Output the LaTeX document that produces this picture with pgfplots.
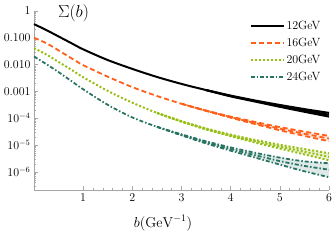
\documentclass[border=0pt]{standalone}
\usepackage{pgfplots}
\pgfplotsset{compat=1.18}
\usepgfplotslibrary{fillbetween}
\definecolor{cOr}{RGB}{255,95,25}
\definecolor{cGr}{RGB}{150,190,20}
\definecolor{cTe}{RGB}{40,115,98}
\begin{document}
\begin{tikzpicture}
\begin{axis}[
  at={(0,0)}, anchor=south west,
  scale only axis, width=295bp, height=179bp,
  xmin=0, xmax=6, ymin=2.1e-7, ymax=1,
  ymode=log, set layers, clip=false,
  axis x line*=bottom, axis y line*=left,
  axis line style={gray!70, line width=0.6pt, -},
  xtick={1,...,6}, minor x tick num=4,
  ytick={1e-6,1e-5,1e-4,1e-3,1e-2,1e-1,1},
  minor ytick={2e-7,3e-7,4e-7,5e-7,6e-7,7e-7,8e-7,9e-7,
    2e-6,3e-6,4e-6,5e-6,6e-6,7e-6,8e-6,9e-6,
    2e-5,3e-5,4e-5,5e-5,6e-5,7e-5,8e-5,9e-5,
    2e-4,3e-4,4e-4,5e-4,6e-4,7e-4,8e-4,9e-4,
    2e-3,3e-3,4e-3,5e-3,6e-3,7e-3,8e-3,9e-3,
    2e-2,3e-2,4e-2,5e-2,6e-2,7e-2,8e-2,9e-2,
    0.2,0.3,0.4,0.5,0.6,0.7,0.8,0.9},
  yticklabels={$10^{-6}$,$10^{-5}$,$10^{-4}$,$0.001$,$0.010$,$0.100$,$1$},
  tick align=inside, major tick length=4bp, minor tick length=2bp,
  tick style={gray!70, line width=0.5pt},
  ticklabel style={font=\large},
  legend style={draw=none, fill=none, at={(rel axis cs:0.73,0.955)}, anchor=north west,
    font=\large, row sep=3pt, inner sep=0pt},
  legend cell align=left,
  legend image code/.code={\draw[#1] (0bp,0bp) -- (33bp,0bp);},
]
% 12 GeV
\addplot[black, line width=2pt, smooth] table {
b y
0 0.3236
0.25 0.1950
0.5 0.1122
0.75 0.06457
1.0 0.03715
1.5 0.01479
2.0 0.006918
2.5 0.003467
3.0 0.001905
3.5 0.001122
4.0 6.761e-4
4.5 4.365e-4
5.0 2.884e-4
5.5 1.950e-4
6.0 1.349e-4
};
\addlegendentry{12GeV}
% 16 GeV
\addplot[cOr, line width=1.8pt, smooth, dash pattern=on 5bp off 3bp] table {
b y
0 0.1
0.25 0.06310
0.5 0.03388
0.75 0.01778
1.0 0.009550
1.5 0.003548
2.0 0.001445
2.5 6.761e-4
3.0 3.467e-4
3.5 1.905e-4
4.0 1.096e-4
4.5 6.607e-5
5.0 4.074e-5
5.5 2.630e-5
6.0 1.738e-5
};
\addlegendentry{16GeV}
% 20 GeV
\addplot[cGr, line width=2pt, smooth, dash pattern=on 2bp off 2bp] table {
b y
0 0.04074
0.25 0.02399
0.5 0.01259
0.75 0.006607
1.0 0.003388
1.5 0.001047
2.0 3.802e-4
2.5 1.585e-4
3.0 7.586e-5
3.5 3.981e-5
4.0 2.291e-5
4.5 1.380e-5
5.0 8.710e-6
5.5 5.623e-6
6.0 3.631e-6
};
\addlegendentry{20GeV}
% 24 GeV
\addplot[cTe, line width=1.8pt, smooth, dash pattern=on 4bp off 2bp on 1.5bp off 2bp] table {
b y
0 0.01995
0.25 0.01047
0.5 0.005248
0.75 0.002512
1.0 0.001202
1.5 3.162e-4
2.0 1.072e-4
2.5 4.786e-5
3.0 2.399e-5
3.5 1.259e-5
4.0 7.079e-6
4.5 4.169e-6
5.0 2.512e-6
5.5 1.660e-6
6.0 1.202e-6
};
\addlegendentry{24GeV}
% bands
\addplot[black, line width=2pt, smooth, forget plot] table {
b y
3.5 0.001122
4.0 7.000e-4
4.5 4.571e-4
5.0 3.126e-4
5.5 2.188e-4
6.0 1.585e-4
};
\addplot[black, line width=2pt, smooth, forget plot] table {
b y
3.5 0.001122
4.0 6.530e-4
4.5 4.169e-4
5.0 2.661e-4
5.5 1.738e-4
6.0 1.148e-4
};
\addplot[cOr, line width=1.8pt, smooth, dash pattern=on 5bp off 3bp, forget plot, name path=orU] table {
b y
3.0 3.467e-4
3.5 1.950e-4
4.0 1.150e-4
4.5 7.244e-5
5.0 4.677e-5
5.5 3.162e-5
6.0 2.188e-5
};
\addplot[cOr, line width=1.8pt, smooth, dash pattern=on 5bp off 3bp, forget plot, name path=orL] table {
b y
3.0 3.467e-4
3.5 1.862e-4
4.0 1.047e-4
4.5 6.026e-5
5.0 3.548e-5
5.5 2.188e-5
6.0 1.380e-5
};
\addplot[cGr, line width=2pt, smooth, dash pattern=on 2bp off 2bp, forget plot, name path=grU] table {
b y
2.5 1.585e-4
3.0 7.762e-5
3.5 4.169e-5
4.0 2.455e-5
4.5 1.549e-5
5.0 1.023e-5
5.5 7.079e-6
6.0 4.898e-6
};
\addplot[cGr, line width=2pt, smooth, dash pattern=on 2bp off 2bp, forget plot, name path=grL] table {
b y
2.5 1.585e-4
3.0 7.413e-5
3.5 3.802e-5
4.0 2.138e-5
4.5 1.230e-5
5.0 7.413e-6
5.5 4.467e-6
6.0 2.692e-6
};
\addplot[cTe, line width=1.8pt, smooth, dash pattern=on 4bp off 2bp on 1.5bp off 2bp, forget plot, name path=teU] table {
b y
2.5 4.786e-5
3.0 2.512e-5
3.5 1.380e-5
4.0 8.128e-6
4.5 5.129e-6
5.0 3.388e-6
5.5 2.455e-6
6.0 2.089e-6
};
\addplot[cTe, line width=1.8pt, smooth, dash pattern=on 4bp off 2bp on 1.5bp off 2bp, forget plot, name path=teL] table {
b y
2.5 4.786e-5
3.0 2.291e-5
3.5 1.148e-5
4.0 6.166e-6
4.5 3.388e-6
5.0 1.862e-6
5.5 1.047e-6
6.0 6.310e-7
};
\addplot[cOr!15, forget plot] fill between[of=orU and orL];
\addplot[cGr!18, forget plot] fill between[of=grU and grL];
\addplot[cTe!15, forget plot] fill between[of=teU and teL];
\node[font=\LARGE] at (rel axis cs:0.134,0.985) {$\Sigma(b)$};
\node[font=\Large] at (rel axis cs:0.437,0) [yshift=-33bp] {$b(\mathrm{GeV}^{-1})$};
\end{axis}
\pgfresetboundingbox
\path[use as bounding box] (-34bp,-50bp) rectangle (298bp,190bp);
\end{tikzpicture}
\end{document}
